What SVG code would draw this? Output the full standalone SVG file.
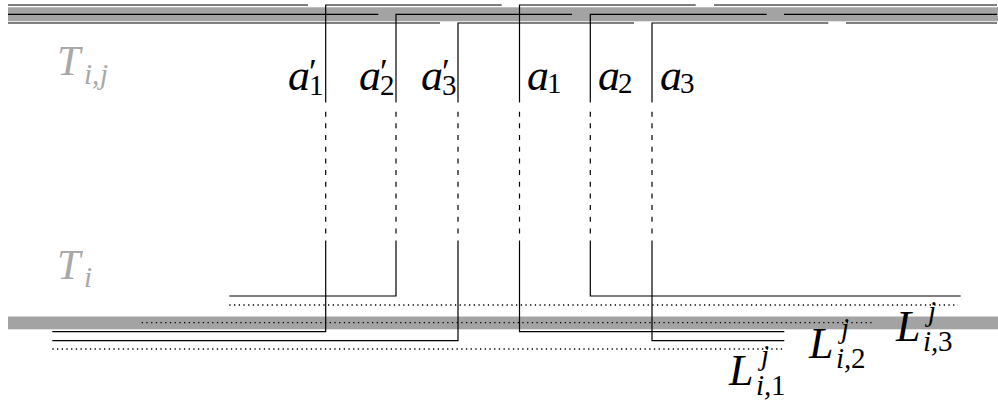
<svg xmlns="http://www.w3.org/2000/svg" width="998" height="403" viewBox="0 0 998 403">
<style>
.band{fill:#a3a3a3}
.ln{fill:none;stroke:#000;stroke-width:1.2}
.dash{fill:none;stroke:#000;stroke-width:1.2;stroke-dasharray:5 6.67}
.dot{fill:none;stroke:#000;stroke-width:1.3;stroke-dasharray:1.3 3.4}
.mi{font-family:"Liberation Serif","DejaVu Serif",serif;font-style:italic}
.rm{font-family:"Liberation Serif","DejaVu Serif",serif;font-style:normal}
.lab{font-size:44px;fill:#000}
.gl{font-size:42px;fill:#a8a8a8}
.s{font-size:29px}
.pr{font-size:36px}
</style>
<g id="bands">
<rect class="band" x="8" y="7.3" width="990" height="14"/>
<rect class="band" x="8" y="316.5" width="990" height="12.8"/>
</g>
<g id="top-tracks">
<path class="ln" d="M8,5 H308 M714,5 H997 M8,14.3 H378.3 M784,14.3 H997 M8,23 H440 M846,23 H997"/>
</g>
<g id="bottom-tracks">
<path class="dot" d="M229.3,305 H958 M141.7,322.7 H873 M52.3,349 H784.3"/>
</g>
<g id="connectors">
<g id="wire-a1p">
<path class="ln" d="M501.7,5 H325.7 V102.5"/><path class="dash" d="M325.7,111.7 V233.4"/><path class="ln" d="M325.7,240.5 V331.7 H52.3"/>
</g>
<g id="wire-a2p">
<path class="ln" d="M572,14.3 H396 V102.5"/><path class="dash" d="M396,111.7 V233.4"/><path class="ln" d="M396,240.5 V296 H229.3"/>
</g>
<g id="wire-a3p">
<path class="ln" d="M634,23 H458 V102.5"/><path class="dash" d="M458,111.7 V233.4"/><path class="ln" d="M458,240.5 V340.7 H52.3"/>
</g>
<g id="wire-a1">
<path class="ln" d="M695.7,5 H519.5 V102.5"/><path class="dash" d="M519.5,111.7 V233.4"/><path class="ln" d="M519.5,240.5 V331.7 H784.3"/>
</g>
<g id="wire-a2">
<path class="ln" d="M766.7,14.3 H590.3 V102.5"/><path class="dash" d="M590.3,111.7 V233.4"/><path class="ln" d="M590.3,240.5 V296 H960.7"/>
</g>
<g id="wire-a3">
<path class="ln" d="M828.3,23 H652 V102.5"/><path class="dash" d="M652,111.7 V233.4"/><path class="ln" d="M652,240.5 V340.7 H784.3"/>
</g>
</g>
<g id="label-Tij"><text class="gl"><tspan class="mi" x="57" y="75">T</tspan><tspan class="mi s" x="84" y="84">i</tspan><tspan class="mi s" x="92" y="84">,</tspan><tspan class="mi s" x="100" y="84">j</tspan></text></g>
<g id="label-Ti"><text class="gl"><tspan class="mi" x="57" y="279">T</tspan><tspan class="mi s" x="84" y="287">i</tspan></text></g>
<g id="label-a1p"><text class="lab"><tspan class="mi" x="288" y="90">a</tspan><tspan class="rm pr" x="309" y="84">′</tspan><tspan class="rm s" x="309" y="95">1</tspan></text></g>
<g id="label-a2p"><text class="lab"><tspan class="mi" x="359" y="90">a</tspan><tspan class="rm pr" x="380" y="84">′</tspan><tspan class="rm s" x="380" y="95">2</tspan></text></g>
<g id="label-a3p"><text class="lab"><tspan class="mi" x="421" y="90">a</tspan><tspan class="rm pr" x="442" y="84">′</tspan><tspan class="rm s" x="442" y="95">3</tspan></text></g>
<g id="label-a1"><text class="lab"><tspan class="mi" x="527" y="90">a</tspan><tspan class="rm s" x="547" y="93">1</tspan></text></g>
<g id="label-a2"><text class="lab"><tspan class="mi" x="598" y="90">a</tspan><tspan class="rm s" x="618" y="93">2</tspan></text></g>
<g id="label-a3"><text class="lab"><tspan class="mi" x="660" y="90">a</tspan><tspan class="rm s" x="680" y="93">3</tspan></text></g>
<g id="label-L1"><text class="lab"><tspan class="mi" x="729" y="385">L</tspan><tspan class="mi s" x="761" y="365">j</tspan><tspan class="mi s" x="756" y="395">i</tspan><tspan class="mi s" x="764" y="395">,</tspan><tspan class="rm s" x="771" y="395">1</tspan></text></g>
<g id="label-L2"><text class="lab"><tspan class="mi" x="809" y="358">L</tspan><tspan class="mi s" x="841" y="338">j</tspan><tspan class="mi s" x="836" y="368">i</tspan><tspan class="mi s" x="844" y="368">,</tspan><tspan class="rm s" x="851" y="368">2</tspan></text></g>
<g id="label-L3"><text class="lab"><tspan class="mi" x="896" y="341">L</tspan><tspan class="mi s" x="928" y="321">j</tspan><tspan class="mi s" x="923" y="351">i</tspan><tspan class="mi s" x="931" y="351">,</tspan><tspan class="rm s" x="938" y="351">3</tspan></text></g>
</svg>
